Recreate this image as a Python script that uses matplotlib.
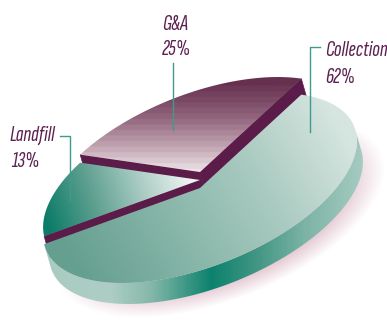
import numpy as np
import matplotlib
matplotlib.use("Agg")
import matplotlib.pyplot as plt
from matplotlib import font_manager as fm
from matplotlib.patches import Polygon
from matplotlib.colors import LinearSegmentedColormap

# data
labels = ["Collection", "G&A", "Landfill"]
shares = [62, 25, 13]
pct_labels = ["62%", "25%", "13%"]

# pseudo-3D geometry (pixels)
CX, CY = 200, 188
A, B = 166, 78
PHI = np.radians(21.7)
EXT = np.array([6.0, 21.0])
START = 176
lifts = {"Collection": 0, "G&A": 16, "Landfill": 8}

PURPLE = "#5b1c4a"
TEXT = "#5c2150"
LEADER = "#3f9c8b"


def pick_font():
  # condensed italic face if one is installed, else DejaVu Sans at a smaller size
  for fam, size in [("Sofia Sans Extra Condensed", 16.5), ("Roboto Condensed", 12.5),
                    ("Liberation Sans Narrow", 12)]:
    try:
      fm.findfont(fm.FontProperties(family=fam, style="italic"), fallback_to_default=False)
      return fam, size
    except Exception:
      pass
  return "DejaVu Sans", 9.5


def pt(t_deg, lift=0.0, down=False):
  t = np.radians(np.asarray(t_deg, dtype=float))
  x = CX + A * np.cos(t) * np.cos(PHI) - B * np.sin(t) * np.sin(PHI)
  y = CY - (A * np.cos(t) * np.sin(PHI) + B * np.sin(t) * np.cos(PHI)) - lift
  if down:
    x = x + EXT[0]
    y = y + EXT[1]
  return np.column_stack([np.atleast_1d(x), np.atleast_1d(y)])


def outer_visible(t_deg):
  p = pt(t_deg)[0]
  d = pt(t_deg + 0.5)[0] - pt(t_deg - 0.5)[0]
  n = np.array([d[1], -d[0]])
  if n @ (p - [CX, CY]) < 0:
    n = -n
  return n @ EXT > 0


def grad_fill(ax, xy, p0, p1, cmap, zorder, steps=None):
  poly = Polygon(xy, closed=True, facecolor="none", edgecolor="none")
  ax.add_patch(poly)
  x0, y0 = xy.min(0) - 2
  x1, y1 = xy.max(0) + 2
  X, Y = np.meshgrid(np.linspace(x0, x1, 300), np.linspace(y0, y1, 300))
  d = np.array(p1, float) - np.array(p0, float)
  v = ((X - p0[0]) * d[0] + (Y - p0[1]) * d[1]) / (d @ d)
  v = np.clip(v, 0, 1)
  if steps:
    v = np.clip(np.floor(v * steps) / (steps - 1), 0, 1)
  im = ax.imshow(v, cmap=cmap, vmin=0, vmax=1, extent=(x0, x1, y1, y0),
                 origin="upper", interpolation="bilinear", zorder=zorder,
                 aspect="auto")
  im.set_clip_path(poly)


fig = plt.figure(figsize=(3.87, 3.30), dpi=100)
ax = fig.add_axes([0, 0, 1, 1])

# soft pink shadow
X, Y = np.meshgrid(np.arange(387) + 0.5, np.arange(330) + 0.5)
ux, uy = X - (CX + 20), -(Y - (CY + 30))
xr = ux * np.cos(PHI) + uy * np.sin(PHI)
yr = -ux * np.sin(PHI) + uy * np.cos(PHI)
r = np.sqrt((xr / A) ** 2 + (yr / B) ** 2)
shadow = np.zeros((330, 387, 4))
shadow[..., :3] = [0.88, 0.76, 0.80]
shadow[..., 3] = np.clip((1.05 - r) / 0.22, 0, 1) * 0.8
ax.imshow(shadow, extent=(0, 387, 330, 0), origin="upper", zorder=0, aspect="auto")

# slice angle ranges
bounds = START + 360 * np.concatenate([[0], np.cumsum(shares)]) / 100.0
ranges = {lab: (bounds[i], bounds[i + 1]) for i, lab in enumerate(labels)}

cm_coll_top = LinearSegmentedColormap.from_list(
  "ct", ["#d6e5e0", "#a9cac0", "#86b5a8", "#659f8f"])
cm_coll_wall = LinearSegmentedColormap.from_list(
  "cw", [(0, "#a9cbc1"), (0.2, "#aecec5"), (0.33, "#86b8aa"), (0.52, "#0c826d"),
         (0.66, "#3f9583"), (0.82, "#7db4a6"), (1, "#a6cbc1")])
cm_land = LinearSegmentedColormap.from_list(
  "lt", ["#0c7c68", "#5d9f8f", "#a8cbc2", "#eef4f2"])
cm_ga = LinearSegmentedColormap.from_list(
  "ga", ["#66304f", "#8c5f77", "#c0a2b0", "#f7f1f3"])

z = 1
for lab in ["G&A", "Landfill", "Collection"]:
  t0, t1 = ranges[lab]
  h = lifts[lab]
  ts = np.linspace(t0, t1, 200)
  tm = (t0 + t1) / 2

  # outer wall, front-facing part only
  vis = np.array([outer_visible(t) for t in ts])
  if vis.any():
    tv = ts[vis]
    band = np.vstack([pt(tv, h), pt(tv[::-1], h, down=True)])
    if lab == "Collection":
      grad_fill(ax, band, (45, 0), (364, 0), cm_coll_wall, z)
    else:
      ax.add_patch(Polygon(band, closed=True, fc=PURPLE, ec=PURPLE, lw=0.5, zorder=z))

  # radial cut walls of the raised slices
  if lab != "Collection":
    c_top = np.array([[CX, CY - h]])
    mid = pt(tm, h)[0] - c_top[0]
    for tb in (t0, t1):
      e = pt(tb, h)[0]
      dvec = e - c_top[0]
      n = np.array([dvec[1], -dvec[0]])
      if n @ mid > 0:
        n = -n
      if n @ EXT > 0:
        quad = np.vstack([c_top, [e], [e + EXT], c_top + EXT])
        ax.add_patch(Polygon(quad, closed=True, fc=PURPLE, ec=PURPLE, lw=0.5, zorder=z))

  # top face
  top = np.vstack([[[CX, CY - h]], pt(ts, h)])
  if lab == "Collection":
    grad_fill(ax, top, (335, 115), (75, 268), cm_coll_top, z + 0.5)
  elif lab == "Landfill":
    grad_fill(ax, top, (48, 226), (190, 180), cm_land, z + 0.5)
  else:
    grad_fill(ax, top, (0, 80), (0, 180), cm_ga, z + 0.5, steps=18)
  z += 1

# leader lines
ax.plot([173, 173], [63, 130], color=LEADER, lw=1, zorder=10)
ax.plot([320, 310, 310], [47, 47, 132], color=LEADER, lw=1, zorder=10)
ax.plot([60, 70, 70], [136, 136, 200], color=LEADER, lw=1, zorder=10)

# labels
fam, size = pick_font()
font = dict(family=[fam, "DejaVu Sans"], style="italic", fontsize=size,
            color=TEXT, ha="left", va="baseline", zorder=11)
label_pos = {"Collection": (325, 56), "G&A": (162, 30), "Landfill": (9, 141)}
pct_pos = {"Collection": (325, 83), "G&A": (162, 55), "Landfill": (11, 167)}
for lab, pct in zip(labels, pct_labels):
  ax.text(*label_pos[lab], lab, **font)
  ax.text(*pct_pos[lab], pct, **font)

ax.set_xlim(0, 387)
ax.set_ylim(330, 0)
ax.axis("off")
fig.savefig("out.png", dpi=100, facecolor="white")
